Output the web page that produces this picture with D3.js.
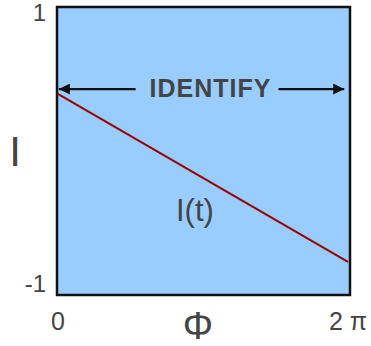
<!DOCTYPE html>
<html>
<head>
<meta charset="utf-8">
<script src="https://cdn.jsdelivr.net/npm/d3@7"></script>
<style>
  body { margin: 0; background: #fff; }
  text { font-family: "Liberation Sans", Arial, sans-serif; fill: #444; }
</style>
</head>
<body>
<div id="chart"></div>
<script>
// data
var phiDomain = [0, 2 * Math.PI]
var iDomain = [-1, 1]
var linePhi = [0, 6.24]
var lineI = [0.40, -0.77]
var xTickVals = [0, 2 * Math.PI]
var xTickLabels = ["0", "2 \u03c0"]
var yTickVals = [1, -1]
var yTickLabels = ["1", "-1"]
var arrowPhi = [0.04, 6.16]
var arrowI = 0.43
var bannerText = "IDENTIFY"

var width = 371, height = 346
var margin = { top: 7, right: 21, bottom: 51, left: 57 }

var x = d3.scaleLinear().domain(phiDomain).range([margin.left, width - margin.right])
var y = d3.scaleLinear().domain(iDomain).range([height - margin.bottom, margin.top])

var svg = d3.select("#chart").append("svg")
    .attr("width", width)
    .attr("height", height)

var defs = svg.append("defs")
defs.append("marker")
    .attr("id", "head")
    .attr("viewBox", "0 0 10 10")
    .attr("refX", 10).attr("refY", 5)
    .attr("markerWidth", 6).attr("markerHeight", 5)
    .attr("markerUnits", "strokeWidth")
    .attr("orient", "auto-start-reverse")
    .append("path")
    .attr("d", "M0,0L10,5L0,10z")
    .attr("fill", "#111")

// plot box
svg.append("rect")
    .attr("x", x(phiDomain[0]))
    .attr("y", y(iDomain[1]))
    .attr("width", x(phiDomain[1]) - x(phiDomain[0]))
    .attr("height", y(iDomain[0]) - y(iDomain[1]))
    .attr("fill", "#99ccff")
    .attr("stroke", "#111")
    .attr("stroke-width", 2.5)

// I(t) line
var pts = linePhi.map(function (p, i) { return [p, lineI[i]] })
svg.append("path")
    .datum(pts)
    .attr("d", d3.line().x(function (d) { return x(d[0]) }).y(function (d) { return y(d[1]) }))
    .attr("fill", "none")
    .attr("stroke", "#990000")
    .attr("stroke-width", 2)

// IDENTIFY banner with arrows
var banner = svg.append("text")
    .attr("x", x((arrowPhi[0] + arrowPhi[1]) / 2) + 9)
    .attr("y", y(arrowI) + 8)
    .attr("text-anchor", "middle")
    .style("font-size", "25px")
    .style("font-weight", "bold")
    .style("letter-spacing", "1px")
    .text(bannerText)

var bb = banner.node().getBBox()
svg.append("line")
    .attr("x1", bb.x - 14).attr("x2", x(arrowPhi[0]))
    .attr("y1", y(arrowI)).attr("y2", y(arrowI))
    .attr("stroke", "#111").attr("stroke-width", 2.2)
    .attr("marker-end", "url(#head)")
svg.append("line")
    .attr("x1", bb.x + bb.width + 7).attr("x2", x(arrowPhi[1]))
    .attr("y1", y(arrowI)).attr("y2", y(arrowI))
    .attr("stroke", "#111").attr("stroke-width", 2.2)
    .attr("marker-end", "url(#head)")

// tick labels
svg.selectAll(".xt")
    .data(xTickVals)
    .enter().append("text")
    .attr("class", "xt")
    .attr("x", function (d, i) { return i == 0 ? x(d) + 1 : x(d) - 1 })
    .attr("y", height - 16)
    .attr("text-anchor", function (d, i) { return i == 0 ? "middle" : "start" })
    .attr("dx", function (d, i) { return i == 0 ? 0 : -20 })
    .style("font-size", "25px")
    .text(function (d, i) { return xTickLabels[i] })

svg.selectAll(".yt")
    .data(yTickVals)
    .enter().append("text")
    .attr("class", "yt")
    .attr("x", margin.left - 11)
    .attr("y", function (d) { return y(d) + (d > 0 ? 14 : -3) })
    .attr("text-anchor", "end")
    .style("font-size", "24px")
    .text(function (d, i) { return yTickLabels[i] })

// axis titles
svg.append("text")
    .attr("x", 198).attr("y", height - 7)
    .attr("text-anchor", "middle")
    .style("font-size", "38px")
    .text("\u03a6")

svg.append("text")
    .attr("x", 15).attr("y", 166)
    .attr("text-anchor", "middle")
    .style("font-size", "42px")
    .text("I")

svg.append("text")
    .attr("x", 176).attr("y", 221)
    .style("font-size", "31px")
    .text("I(t)")
</script>
</body>
</html>
